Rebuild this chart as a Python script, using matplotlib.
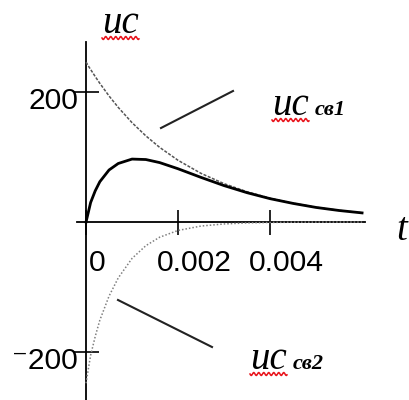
import matplotlib
matplotlib.use('Agg')
import matplotlib.pyplot as plt
import matplotlib.transforms as mtransforms
from matplotlib.lines import Line2D
import numpy as np

# time (s) and capacitor voltages (V)
t = [0, 0.00005, 0.0001, 0.0002, 0.0003, 0.0005, 0.0007, 0.001, 0.0013, 0.0016,
     0.002, 0.0025, 0.003, 0.0035, 0.004, 0.0045, 0.005, 0.0055, 0.006]
u_sv1 = [246, 240, 234.6, 223.7, 213.3, 193.9, 176.3, 152.8, 132.5, 114.8,
         94.9, 74.8, 59.0, 46.5, 36.6, 28.9, 22.7, 17.9, 14.1]
u_sv2 = [-248, -226, -205, -176, -151, -114, -86, -56, -36.4, -23.4,
         -13.0, -6.2, -3.0, -1.4, -0.7, -0.3, -0.2, -0.1, -0.1]
u_c = [0, 15, 30, 48, 62, 80, 90, 96.8, 96.1, 91.4,
       81.9, 68.6, 56.0, 45.1, 35.9, 28.6, 22.4, 17.7, 14.0]

x_ticks = [0, 0.002, 0.004]
x_tick_labels = ['0', '0.002', '0.004']
y_ticks = [200, -200]
y_tick_labels = ['200', '\u207b200']

W, H = 409, 400
fig = plt.figure(figsize=(W / 100, H / 100), dpi=100)
ax = fig.add_axes([0, 0, 1, 1])
ax.set_xlim(-0.00187, 0.00702)
ax.set_ylim(-273.8, 341.5)
ax.patch.set_visible(False)

ax.plot(t, u_sv1, color='#555555', lw=1.1, ls=(0, (2, 1)))
ax.plot(t, u_sv2, color='#808080', lw=1.1, ls=(0, (1, 1.3)))
ax.plot(t, u_c, color='black', lw=2)

# axes crossing at the origin
for s in ['top', 'right']:
    ax.spines[s].set_visible(False)
ax.spines['left'].set_position(('data', 0))
ax.spines['bottom'].set_position(('data', 0))
ax.spines['left'].set_bounds(-280, 277)
ax.spines['bottom'].set_bounds(-0.0002, 0.00607)
for s in ['left', 'bottom']:
    ax.spines[s].set_linewidth(1.3)
    ax.spines[s].set_zorder(1)

ax.set_xticks(x_ticks)
ax.set_yticks(y_ticks)
ax.tick_params(direction='inout', length=18, width=1.2,
               labelbottom=False, labelleft=False)

tick_font = dict(fontsize=21.6, family=['Liberation Sans', 'DejaVu Sans'])
x_shift = [11, 16, 16]
for xv, lab, dx in zip(x_ticks, x_tick_labels, x_shift):
    tr = mtransforms.offset_copy(ax.transData, fig=fig, x=dx, y=-27, units='dots')
    ax.text(xv, 0, lab, transform=tr, ha='center', va='top', **tick_font)
for yv, lab in zip(y_ticks, y_tick_labels):
    tr = mtransforms.offset_copy(ax.transData, fig=fig, x=-8, y=5, units='dots')
    ax.text(0, yv, lab, transform=tr, ha='right', va='top', **tick_font)


def px(x, y):
    return x / W, 1 - y / H


serif = ['Liberation Serif', 'DejaVu Serif']


def squiggle(x0, x1, y):
    xs = np.linspace(x0, x1, 60)
    ys = y + 1.5 * np.sin((xs - x0) / 5.0 * 2 * np.pi)
    fig.add_artist(Line2D(xs / W, 1 - ys / H, color='#e8141c', lw=1.1,
                          transform=fig.transFigure))


def u_label(x, y, sub=None):
    fig.text(*px(x, y), 'uc', fontsize=28, style='italic', family=serif,
             va='baseline', ha='left')
    squiggle(x, x + 37, y + 5)
    if sub:
        fig.text(*px(x + 43, y), sub, fontsize=16, style='italic',
                 weight='bold', family=serif, va='baseline', ha='left')


u_label(102, 33)
u_label(272, 115, 'св1')
u_label(250, 369, 'св2')
fig.text(*px(396, 240), 't', fontsize=28, style='italic', family=serif,
         va='baseline', ha='left')

# pointer lines to the curves
for (xa, ya), (xb, yb) in [((161, 128), (233, 91)), ((118, 300), (212, 347))]:
    fig.add_artist(Line2D([xa / W, xb / W], [1 - ya / H, 1 - yb / H],
                          color='#222222', lw=1.5, transform=fig.transFigure))

fig.savefig('out.png', dpi=100)
